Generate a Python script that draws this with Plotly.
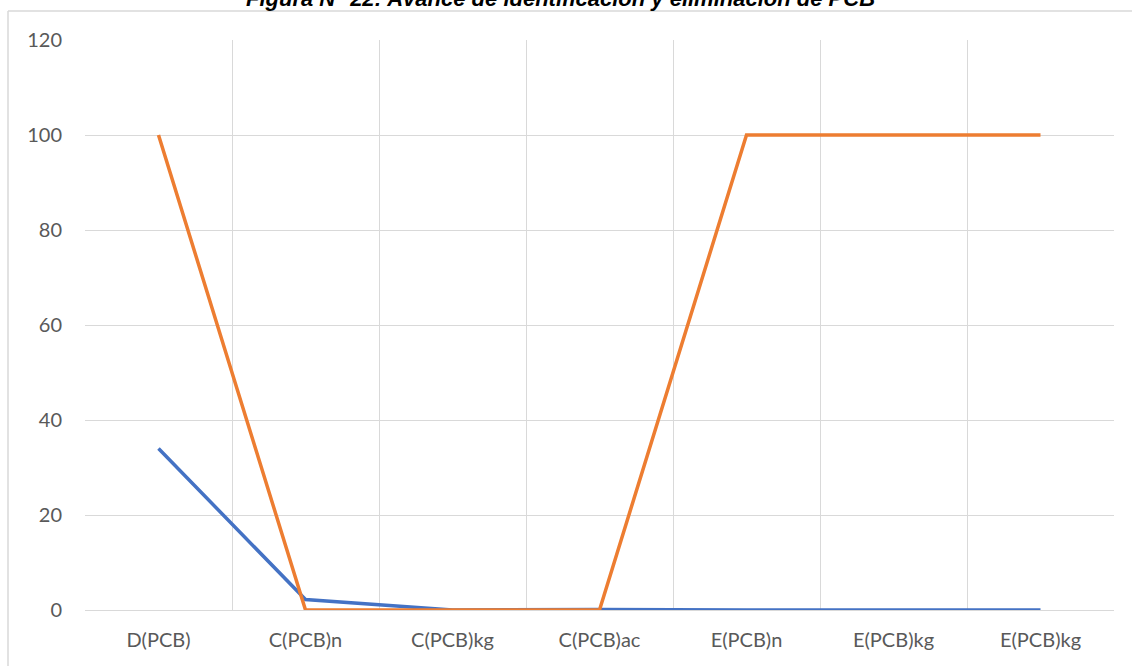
import plotly.graph_objects as go

categories = ["D(PCB)", "C(PCB)n", "C(PCB)kg", "C(PCB)ac", "E(PCB)n", "E(PCB)kg", "E(PCB)kg"]
serie_azul = [34, 2.2, 0, 0.1, 0, 0, 0]
serie_naranja = [100, 0, 0, 0, 100, 100, 100]
y_ticks = [0, 20, 40, 60, 80, 100, 120]

x = list(range(len(categories)))

fig = go.Figure()
fig.add_trace(go.Scatter(x=x, y=serie_azul, mode="lines",
                         line=dict(color="#4472C4", width=3.5), name="Serie 1"))
fig.add_trace(go.Scatter(x=x, y=serie_naranja, mode="lines",
                         line=dict(color="#ED7D31", width=3.5), name="Serie 2"))

boundaries = [i - 0.5 for i in range(len(categories) + 1)]

fig.update_layout(
    width=1132, height=666,
    margin=dict(l=85, r=18, t=40, b=56),
    paper_bgcolor="white", plot_bgcolor="white",
    showlegend=False,
    font=dict(family="Lato, Open Sans, sans-serif", size=20, color="#595959"),
    xaxis=dict(
        range=[-0.5, len(categories) - 0.5],
        tickmode="array", tickvals=x, ticktext=categories,
        showgrid=False, zeroline=False, showline=False, ticks="",
        ticklabelstandoff=16,
        minor=dict(tickmode="array", tickvals=boundaries, showgrid=True,
                   gridcolor="#D9D9D9", gridwidth=1, ticks=""),
    ),
    yaxis=dict(
        range=[0, 120], tickmode="array", tickvals=y_ticks,
        showgrid=True, gridcolor="#D9D9D9", gridwidth=1,
        zeroline=True, zerolinecolor="#D9D9D9", zerolinewidth=1,
        showline=False, ticks="", ticklabelstandoff=22,
    ),
    shapes=[
        dict(type="line", xref="paper", yref="paper",
             x0=(8 - 85) / 1029, x1=(1140 - 85) / 1029,
             y0=(610 - 11) / 570, y1=(610 - 11) / 570,
             line=dict(color="#D9D9D9", width=1.5), layer="above"),
        dict(type="line", xref="paper", yref="paper",
             x0=(8 - 85) / 1029, x1=(8 - 85) / 1029,
             y0=(610 - 11) / 570, y1=(610 - 680) / 570,
             line=dict(color="#D9D9D9", width=1.5), layer="above"),
    ],
    annotations=[dict(
        text="Figura N° 22: Avance de identificación y eliminación de PCB",
        xref="paper", yref="paper", x=(560 - 85) / 1029, y=(610 - 8) / 570,
        xanchor="center", yanchor="bottom", yshift=-5,
        showarrow=False,
        font=dict(family="Liberation Sans, Arial, sans-serif", size=22, color="black",
                  weight="bold", style="italic"),
    )],
)

fig.write_html("out.html", config={"displayModeBar": False},
               post_script="document.body.style.margin='0';")
